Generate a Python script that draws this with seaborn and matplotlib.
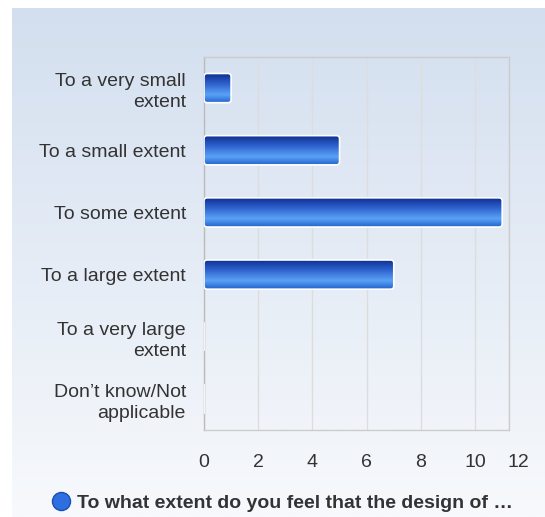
import numpy as np
import matplotlib
matplotlib.use("Agg")
import matplotlib.pyplot as plt
import matplotlib.transforms as mtransforms
import seaborn as sns
import pandas as pd
from matplotlib.colors import LinearSegmentedColormap
from matplotlib.patches import FancyBboxPatch
from matplotlib.lines import Line2D

categories = ["To a very small\nextent", "To a small extent", "To some extent",
              "To a large extent", "To a very large\nextent", "Don\u2019t know/Not\napplicable"]
values = [1, 5, 11, 7, 0, 0]
tick_values = [0, 2, 4, 6, 8, 10]
tick_labels = ["0", "2", "4", "6", "8", "10", "12"]
series_name = "To what extent do you feel that the design of \u2026"

df = pd.DataFrame({"categoria": categories, "valor": values})

sns.set_theme(style="white")
plt.rcParams["font.family"] = ["Liberation Sans", "DejaVu Sans"]

fig = plt.figure(figsize=(5.45, 5.17), dpi=100)

# fundo com gradiente azul claro
bg = fig.add_axes([12 / 545, 0, 1 - 12 / 545, 1 - 8 / 517], zorder=-10)
bg_cmap = LinearSegmentedColormap.from_list("bg", ["#d3dfef", "#f7f9fc"])
bg.imshow(np.linspace(0, 1, 256).reshape(-1, 1), cmap=bg_cmap, aspect="auto",
          extent=[0, 1, 0, 1], origin="upper")
bg.set_axis_off()

ax = fig.add_axes([204 / 545, 1 - 430 / 517, 305 / 545, 373 / 517])
ax.patch.set_alpha(0)

sns.barplot(data=df, x="valor", y="categoria", orient="h", color="#2a62d0",
            width=0.47, edgecolor="white", linewidth=1.2, ax=ax, zorder=3)

xmax = 11.25
ax.set_xlim(0, xmax)
ax.set_xticks(tick_values + [xmax])
ax.set_xticklabels(tick_labels)
ax.set_yticks(range(len(categories)))
ax.set_yticklabels(categories, ha="right", ma="right", linespacing=1.3)
ax.xaxis.grid(True, color="#dddddd", linewidth=1, zorder=0)
ax.tick_params(axis="x", labelsize=14, colors="#333333", length=0, pad=17)
ax.tick_params(axis="y", labelsize=14, colors="#333333", length=0, pad=13)
# o rótulo "12" fica um pouco à direita da borda
last = ax.get_xticklabels()[-1]
last.set_transform(last.get_transform() + mtransforms.ScaledTranslation(9 / 100, 0, fig.dpi_scale_trans))
ax.set_xlabel("")
ax.set_ylabel("")
for s in ax.spines.values():
    s.set_color("#cccccc")
    s.set_linewidth(1)
ax.spines["left"].set_color("#bbbbbb")

# barras com gradiente e cantos arredondados
bar_cmap = LinearSegmentedColormap.from_list(
    "bar", [(0, "#0b2b8c"), (0.35, "#2d60cc"), (0.72, "#5aa2f6"), (1, "#2462cd")])
grad = np.linspace(0, 1, 128).reshape(-1, 1)
aspect = (6.0 / 373) / (xmax / 305)
for p in list(ax.patches):
    x0, y0 = p.get_x(), p.get_y()
    w, h = p.get_width(), p.get_height()
    if w <= 0:
        continue
    p.set_visible(False)
    rb = FancyBboxPatch((x0, y0), w, h, boxstyle="round,pad=0,rounding_size=0.12",
                        mutation_aspect=aspect, facecolor="none", edgecolor="white",
                        linewidth=1.2, zorder=4)
    ax.add_patch(rb)
    im = ax.imshow(grad, cmap=bar_cmap, aspect="auto", extent=[x0, x0 + w, y0 + h, y0],
                   origin="upper", zorder=3.5)
    im.set_clip_path(rb)
ax.set_xlim(0, xmax)
ax.set_ylim(5.5, -0.5)

handle = Line2D([], [], marker="o", linestyle="none", markersize=13,
                markerfacecolor="#2d6fe0", markeredgecolor="#1a4db5")
leg = fig.legend([handle], [series_name], loc="center", bbox_to_anchor=(0.518, 1 - 503 / 517),
                 frameon=False, handletextpad=0.3, handlelength=1.0,
                 prop={"weight": "bold", "size": 14})
for t in leg.get_texts():
    t.set_color("#333333")

fig.savefig("out.png", dpi=100)
